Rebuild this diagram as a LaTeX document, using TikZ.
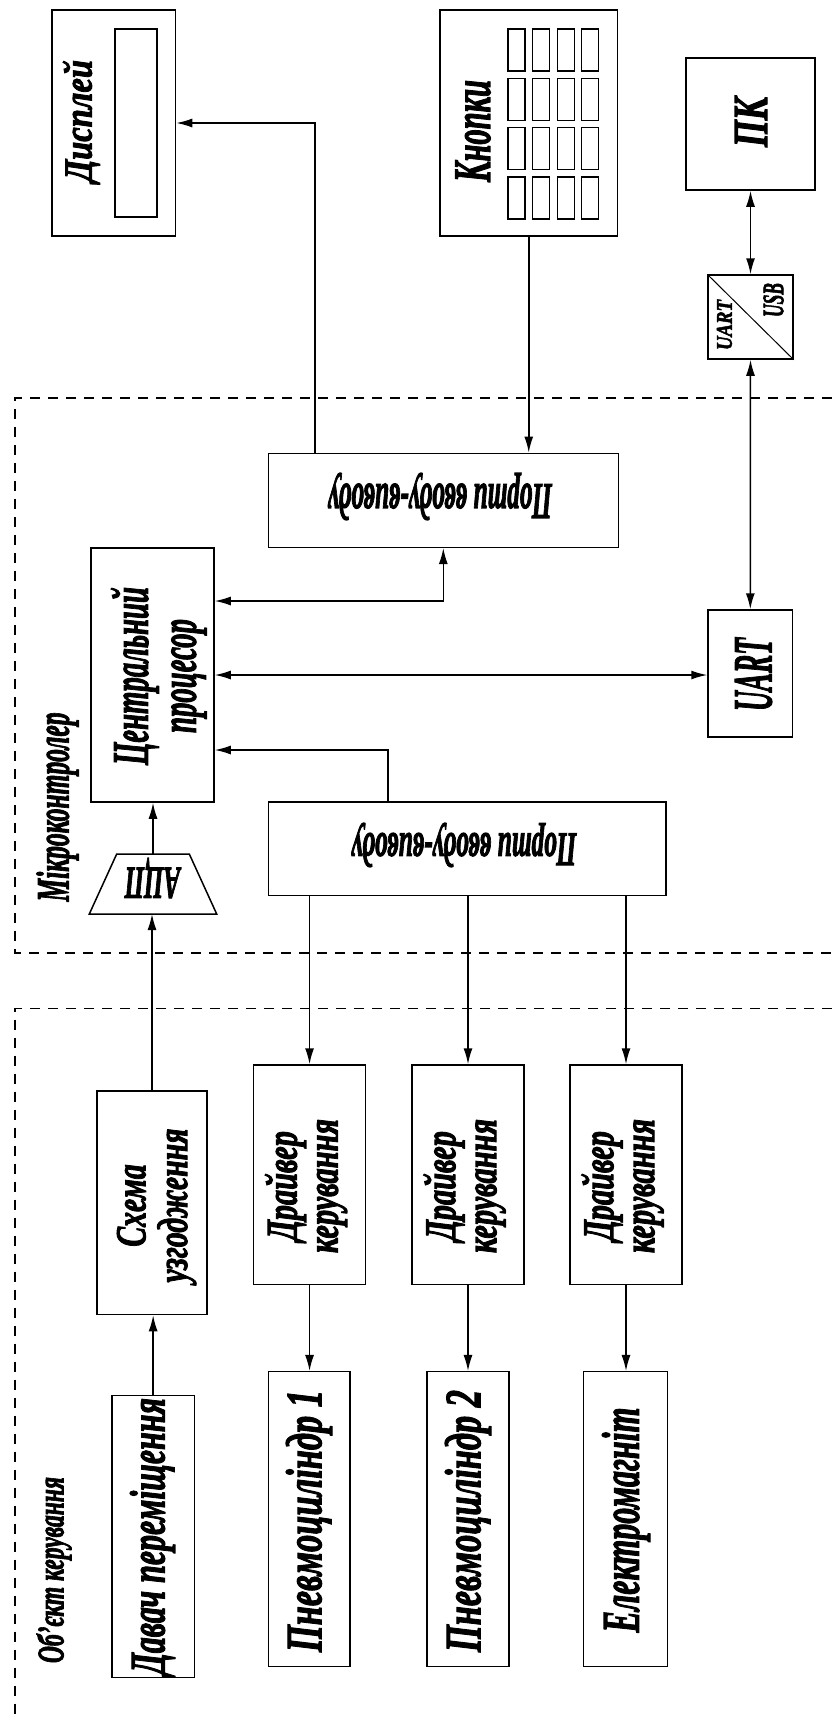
\documentclass[tikz,border=0pt]{standalone}
\usepackage{fontspec}
\setmainfont{Liberation Serif}
\newfontface\heavyface[FakeBold=2.5]{Liberation Serif Bold Italic}
\usepackage{graphicx}
\usetikzlibrary{arrows.meta}
\newcommand{\rsz}[3]{\resizebox*{#1pt}{#2pt}{#3}}
\newcommand{\twol}[2]{{\renewcommand{\arraystretch}{0.78}\begin{tabular}{@{}c@{}}#1\\#2\end{tabular}}}
\begin{document}
\begin{tikzpicture}[x=1pt,y=-1pt,
  box/.style={draw, line width=1.5pt, inner sep=0pt},
  lbl/.style={inner sep=0pt, font=\heavyface},
  wire/.style={line width=1.5pt},
  arr/.style={wire, -{Latex[length=16pt,width=9pt]}},
  darr/.style={wire, {Latex[length=16pt,width=9pt]}-{Latex[length=16pt,width=9pt]}},
  region/.style={line width=1.1pt, dash pattern=on 10pt off 8pt}]
\useasboundingbox[fill=white] (0,0) rectangle (832,1717);

% dashed regions
\draw[region] (832,398) -- (15,398) -- (15,953) -- (832,953);
\draw[region] (832,1008.7) -- (15,1008.7) -- (15,1717);

% boxes
\node[box, minimum width=123.5pt, minimum height=226pt] (disp) at (113.75,123) {};
\node[box, line width=1.3pt, minimum width=42pt, minimum height=188pt] (dispin) at (136,123) {};
\node[box, minimum width=177.5pt, minimum height=226pt] (keys) at (528.75,123) {};
\foreach \c in {0,...,3}
  \foreach \r in {0,...,3}
    \draw[line width=1.3pt] ({508+24.6*\c},{29+49.3*\r}) rectangle ++(17,42);
\node[box, minimum width=129pt, minimum height=132pt] (pc) at (750.5,124) {};
\node[box, minimum width=85pt, minimum height=84pt] (conv) at (750.5,317) {};
\draw[line width=1pt] (conv.north west) -- (conv.south east);
\node[box, minimum width=350pt, minimum height=94pt] (port1) at (443.3,500.3) {};
\node[box, minimum width=123pt, minimum height=254pt] (cpu) at (152.5,675) {};
\node[box, minimum width=84.6pt, minimum height=127pt] (uart) at (750.3,673.5) {};
\node[box, minimum width=397.4pt, minimum height=93.5pt] (port2) at (467.1,848.75) {};
\draw[line width=1.5pt] (116.7,854) -- (189.3,854) -- (216.7,914) -- (89.3,914) -- cycle;
\coordinate (adcN) at (153,854);
\coordinate (adcS) at (153,914);
\node[box, minimum width=110pt, minimum height=223.5pt] (shema) at (152,1202.75) {};
\node[box, minimum width=112pt, minimum height=219.6pt] (drv1) at (309.55,1174.8) {};
\node[box, minimum width=112pt, minimum height=219.6pt] (drv2) at (468,1174.8) {};
\node[box, minimum width=112pt, minimum height=219.6pt] (drv3) at (626,1174.8) {};
\node[box, minimum width=82.3pt, minimum height=282pt] (sensor) at (153.15,1536.7) {};
\node[box, minimum width=81.6pt, minimum height=295pt] (cyl1) at (309.2,1519.2) {};
\node[box, minimum width=82pt, minimum height=295pt] (cyl2) at (468,1519.2) {};
\node[box, minimum width=83.8pt, minimum height=295pt] (em) at (625.5,1519.2) {};

% labels
\node[lbl, rotate=90] (dispT) at (81.5,121) {\rsz{122}{37}{Дисплей}};
\node[lbl, rotate=90] (keysT) at (473,131) {\rsz{102}{35}{Кнопки}};
\node[lbl, rotate=90] (pcT) at (751,122) {\rsz{50}{32}{ПК}};
\node[lbl, rotate=90] (convA) at (724.5,325) {\rsz{50}{15}{UART}};
\node[lbl, rotate=90] (convB) at (773.5,300) {\rsz{34}{20}{USB}};
\node[lbl, rotate=180] (port1T) at (440,496.5) {\rsz{224}{47}{Порти вводу-виводу}};
\node[lbl, rotate=90] (cpuT) at (160.5,676) {\rsz{178}{99}{\twol{Центральний}{процесор}}};
\node[lbl, rotate=90] (uartT) at (753.5,674.5) {\rsz{73}{37}{UART}};
\node[lbl, rotate=90] (microT) at (57.5,807) {\rsz{189}{42}{Мікроконтролер}};
\node[lbl, rotate=180] (adcT) at (152.5,878) {\rsz{55}{40}{АЦП}};
\node[lbl, rotate=180] (port2T) at (464,845) {\rsz{225}{44}{Порти вводу-виводу}};
\node[lbl, rotate=90] (shemaT) at (158,1205.5) {\rsz{154}{82}{\twol{Схема}{узгодження}}};
\node[lbl, rotate=90] (drv1T) at (307.5,1186) {\rsz{134}{85}{\twol{Драйвер}{керування}}};
\node[lbl, rotate=90] (drv2T) at (466,1186) {\rsz{134}{85}{\twol{Драйвер}{керування}}};
\node[lbl, rotate=90] (drv3T) at (624,1186) {\rsz{134}{85}{\twol{Драйвер}{керування}}};
\node[lbl, rotate=90] (sensorT) at (152.5,1536.5) {\rsz{277}{45}{Давач переміщення}};
\node[lbl, rotate=90] (cyl1T) at (309,1521) {\rsz{262}{46}{Пневмоциліндр 1}};
\node[lbl, rotate=90] (cyl2T) at (468,1521) {\rsz{262}{46}{Пневмоциліндр 2}};
\node[lbl, rotate=90] (emT) at (626,1520) {\rsz{225}{48}{Електромагніт}};
\node[lbl, rotate=90] (objT) at (54,1570) {\rsz{186}{35}{Об’єкт керування}};

% connectors
\coordinate (dl) at (315,0);
\draw[arr] (port1.north -| dl) |- (disp.east);
\draw[arr] (keys.south) -- (keys.south |- port1.north);
\coordinate (c1) at (0,601);
\draw[darr] (port1.south) |- (cpu.east |- c1);
\draw[darr] (cpu.east) -- (cpu.east -| uart.west);
\draw[darr] (uart.north) -- (conv.south);
\draw[darr] (conv.north) -- (pc.south);
\coordinate (p2x) at (388,750);
\draw[arr] (port2.north -| p2x) |- (cpu.east |- p2x);
\draw[arr] (adcN) -- (adcN |- cpu.south);
\draw[arr] (shema.north) -- (shema.north |- adcS);
\draw[arr] (sensor.north) -- (sensor.north |- shema.south);
\foreach \d/\o in {drv1/cyl1, drv2/cyl2, drv3/em} {
  \draw[arr] (port2.south -| \d.north) -- (\d.north);
  \draw[arr] (\d.south) -- (\d.south |- \o.north);
}
\end{tikzpicture}
\end{document}
